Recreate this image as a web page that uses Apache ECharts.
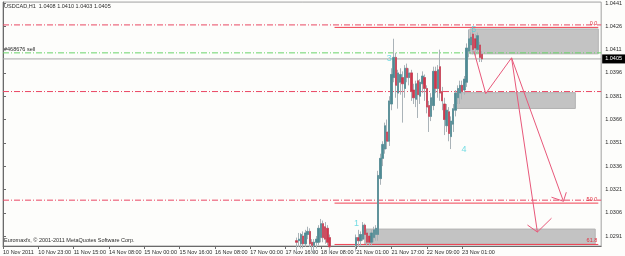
<!DOCTYPE html>
<html>
<head>
<meta charset="utf-8">
<script src="https://cdn.jsdelivr.net/npm/echarts@6/dist/echarts.min.js"></script>
<style>
html, body { margin: 0; padding: 0; background: #fff; }
#chart { width: 625px; height: 256px; }
</style>
</head>
<body>
<div id="chart"></div>
<script>
// USDCAD H1, fixed scale: older bars sit below the visible range
const barCount = 272;
const firstBar = 133;   // first bar index that has data below
const xTickStep = 16;
const xTickLabels = ['10 Nov 2011', '10 Nov 23:00', '11 Nov 15:00', '14 Nov 08:00', '15 Nov 00:00',
  '15 Nov 16:00', '16 Nov 08:00', '17 Nov 00:00', '17 Nov 16:00', '18 Nov 08:00',
  '21 Nov 01:00', '21 Nov 17:00', '22 Nov 09:00', '23 Nov 01:00'];
const yTicks = [1.0291, 1.0306, 1.0321, 1.0336, 1.0351, 1.0366, 1.0381, 1.0396, 1.0411, 1.0426, 1.0441];

// bars 133..217 (null = below the window)
const opens = [
  1.0288, 1.0288, 1.0286, 1.0291, 1.0286, 1.0292, 1.0294, 1.0287, 1.0285, 1.0287, 1.0287, 1.0290, 1.0299, 1.0297, 1.0296, 1.0290,
  null, null, null, null, null, null, null, null, null, null, null,
  1.0285, 1.0290, 1.0288, 1.0289, 1.0298, 1.0293, 1.0291, 1.0287, 1.0290, 1.0292,
  1.0292, 1.0328, 1.0341, 1.0347, 1.0358, 1.0352, 1.0376, 1.0393, 1.0406, 1.0383,
  1.0390, 1.0393, 1.0386, 1.0399, 1.0393, 1.0396, 1.0385, 1.0379, 1.0391, 1.0381,
  1.0389, 1.0393, 1.0386, 1.0375, 1.0368, 1.0375, 1.0397, 1.0386, 1.0400, 1.0384,
  1.0376, 1.0362, 1.0371, 1.0355, 1.0363, 1.0372, 1.0380, 1.0383, 1.0388, 1.0385,
  1.0390, 1.0410, 1.0414, 1.0421, 1.0418, 1.0411, 1.0414, 1.0408];
const closes = [
  1.0287, 1.0289, 1.0292, 1.0286, 1.0293, 1.0294, 1.0286, 1.0285, 1.0287, 1.0289, 1.0296, 1.0299, 1.0290, 1.0289, 1.0287, 1.0284,
  null, null, null, null, null, null, null, null, null, null, null,
  1.0290, 1.0288, 1.0292, 1.0298, 1.0292, 1.0287, 1.0287, 1.0293, 1.0295, 1.0296,
  1.0330, 1.0341, 1.0350, 1.0362, 1.0352, 1.0378, 1.0395, 1.0406, 1.0388, 1.0396,
  1.0395, 1.0389, 1.0399, 1.0393, 1.0396, 1.0384, 1.0380, 1.0389, 1.0382, 1.0390,
  1.0394, 1.0386, 1.0374, 1.0368, 1.0380, 1.0397, 1.0386, 1.0398, 1.0383, 1.0378,
  1.0366, 1.0372, 1.0357, 1.0365, 1.0373, 1.0383, 1.0386, 1.0388, 1.0384, 1.0392,
  1.0412, 1.0418, 1.0419, 1.0411, 1.0412, 1.0420, 1.0406, 1.0405];
const lows = [
  1.0280, 1.0284, 1.0283, 1.0283, 1.0284, 1.0289, 1.0284, 1.0281, 1.0280, 1.0283, 1.0285, 1.0287, 1.0287, 1.0286, 1.0285, 1.0280,
  null, null, null, null, null, null, null, null, null, null, null,
  1.0281, 1.0284, 1.0285, 1.0288, 1.0289, 1.0285, 1.0285, 1.0285, 1.0287, 1.0288,
  1.0288, 1.0324, 1.0336, 1.0344, 1.0347, 1.0349, 1.0372, 1.0390, 1.0380, 1.0373,
  1.0382, 1.0364, 1.0380, 1.0390, 1.0388, 1.0378, 1.0376, 1.0374, 1.0367, 1.0376,
  1.0383, 1.0378, 1.0370, 1.0358, 1.0365, 1.0372, 1.0383, 1.0380, 1.0378, 1.0372,
  1.0356, 1.0358, 1.0352, 1.0347, 1.0358, 1.0368, 1.0376, 1.0376, 1.0379, 1.0382,
  1.0387, 1.0406, 1.0410, 1.0408, 1.0407, 1.0409, 1.0403, 1.0403];
const highs = [
  1.0290, 1.0293, 1.0293, 1.0294, 1.0295, 1.0297, 1.0296, 1.0289, 1.0289, 1.0291, 1.0298, 1.0302, 1.0301, 1.0300, 1.0298, 1.0292,
  null, null, null, null, null, null, null, null, null, null, null,
  1.0292, 1.0295, 1.0294, 1.0300, 1.0299, 1.0295, 1.0293, 1.0295, 1.0297, 1.0298,
  1.0333, 1.0344, 1.0352, 1.0364, 1.0366, 1.0381, 1.0399, 1.0418, 1.0409, 1.0398,
  1.0399, 1.0397, 1.0401, 1.0402, 1.0399, 1.0398, 1.0389, 1.0391, 1.0396, 1.0392,
  1.0397, 1.0395, 1.0388, 1.0378, 1.0383, 1.0400, 1.0400, 1.0401, 1.0411, 1.0387,
  1.0380, 1.0376, 1.0374, 1.0368, 1.0376, 1.0385, 1.0388, 1.0391, 1.0391, 1.0394,
  1.0415, 1.0424, 1.0422, 1.0425, 1.0421, 1.0422, 1.0416, 1.0410];

// horizontal levels
const redLevels = [1.04269, 1.0384, 1.03141];
const greenLevel = 1.04089;
const bidPrice = 1.0405;
const fibNames = ['0.0', '50.0', '61.8'];
const fibLevels = [1.04253, 1.03122, 1.02856];
const fibFrom = 150.2, fibTo = 269.7;

// grey zones [x1, y1, x2, y2] in bar index / price
const zones = [
  [211.5, 1.04243, 269.7, 1.04083],
  [204.7, 1.03833, 259.3, 1.03731],
  [163.9, 1.02955, 268.3, 1.02858]
];

// projection drawn with the trend tool
const arrowPaths = [
  [[213.3, 1.04102], [218.7, 1.03827], [230.4, 1.04057], [242.1, 1.02936]],
  [[230.4, 1.04057], [253.9, 1.03134]],
  [[237.6, 1.02981], [242.1, 1.02936], [248.5, 1.03025]],
  [[248.5, 1.0316], [253.9, 1.03134], [255.2, 1.03192]]
];

const waveNames = ['1', '3', '4', '5'];
const waveX = [160.1, 175.0, 208.8, 213.3];
const waveY = [1.0299, 1.0405, 1.0347, 1.0424];

const cats = Array.from({ length: barCount }, (_, i) => String(i));
const wickData = [];
const bodyData = [];
for (let i = 0; i < barCount; i++) {
  const k = i - firstBar;
  if (k >= 0 && k < opens.length && opens[k] != null) {
    const o = opens[k], c = closes[k];
    wickData.push([o, c, lows[k], highs[k]]);
    bodyData.push([o, c, Math.min(o, c), Math.max(o, c)]);
  } else {
    wickData.push(['-', '-', '-', '-']);
    bodyData.push(['-', '-', '-', '-']);
  }
}

const RED = '#ea4763';
const FIBRED = '#f04050';
const dashDot = [6, 2, 1, 2];
const txt = '#2a2a2a';
const FONT = 'Liberation Sans';
const xEnd = barCount - 1;

// plain helper: a horizontal segment as a line series on the hidden value x axis
function hline(v, from, to, color, type, z, extra) {
  return Object.assign({
    type: 'line', xAxisIndex: 1, data: [[from, v], [to, v]], z: z, silent: true,
    symbol: 'none', color: color, itemStyle: { color: color },
    lineStyle: { color: color, type: type, width: 1 }
  }, extra || {});
}

const series = [
  {
    type: 'line', xAxisIndex: 1, data: [[0, 1.035], [0, 1.035]], z: 1, silent: true, symbol: 'none',
    lineStyle: { opacity: 0 },
    markArea: {
      silent: true,
      itemStyle: { color: '#c3c3c3', borderColor: '#b3b3b3', borderWidth: 1 },
      data: zones.map(z => [{ coord: [z[0], z[1]] }, { coord: [z[2], z[3]] }])
    }
  },
  {
    type: 'candlestick', data: wickData, z: 3, barWidth: 1.8, silent: true,
    itemStyle: { color: '#bcc3c6', color0: '#bcc3c6', borderColor: '#aab3b8', borderColor0: '#aab3b8', borderWidth: 1 }
  },
  {
    type: 'candlestick', data: bodyData, z: 4, barWidth: 1.9, silent: true,
    itemStyle: { color: '#4e8b94', color0: '#d2364c', borderColor: '#4e8b94', borderColor0: '#d2364c', borderWidth: 0.6 }
  }
];

redLevels.forEach(v => series.push(hline(v, 0, xEnd, RED, dashDot, 2)));
series.push(hline(greenLevel, 0, xEnd, '#6ad46a', dashDot, 2));
series.push(hline(bidPrice, 0, xEnd, '#a8a8a8', 'solid', 2, {
  endLabel: { show: true, formatter: bidPrice.toFixed(4), backgroundColor: '#000', color: '#fff',
    fontSize: 5.5, fontFamily: FONT, padding: [2, 3, 1, 3], distance: 1 }
}));
fibLevels.forEach((v, j) => series.push(hline(v, fibFrom, fibTo, FIBRED, 'solid', 2, {
  endLabel: { show: true, formatter: fibNames[j], color: '#e03040', fontSize: 5.5, fontFamily: FONT,
    align: 'right', verticalAlign: 'bottom', offset: [-1, -1], distance: 0 }
})));

arrowPaths.forEach(p => series.push({
  type: 'line', xAxisIndex: 1, data: p, z: 5, silent: true, symbol: 'none', color: '#e8587a',
  lineStyle: { color: '#e8587a', width: 1 }
}));
series.push({
  type: 'scatter', xAxisIndex: 1, z: 6, silent: true, symbolSize: 1,
  itemStyle: { color: 'transparent' },
  data: waveX.map((x, j) => ({ value: [x, waveY[j]], name: waveNames[j] })),
  label: { show: true, position: 'inside', formatter: p => p.name, color: '#4fd3dc', fontSize: 9, fontFamily: FONT }
});

const chart = echarts.init(document.getElementById('chart'));
chart.setOption({
  animation: false,
  backgroundColor: '#fdfdfb',
  grid: { left: 2, right: 22, top: 1, bottom: 10, show: true, borderColor: '#a0a0a0', borderWidth: 1 },
  xAxis: [
    {
      type: 'category', data: cats, boundaryGap: false,
      axisLine: { lineStyle: { color: '#6a6a6a' } },
      axisTick: { show: true, length: 3, interval: i => i % xTickStep === 0 && i / xTickStep < xTickLabels.length,
        lineStyle: { color: '#6a6a6a' } },
      axisLabel: {
        interval: i => i % xTickStep === 0 && i / xTickStep < xTickLabels.length,
        formatter: (v, i) => xTickLabels[i / xTickStep] || '',
        align: 'left', fontSize: 5.5, fontFamily: FONT, color: txt, margin: 3
      },
      splitLine: { show: false }
    },
    { type: 'value', min: 0, max: xEnd, show: false }
  ],
  yAxis: {
    type: 'value', position: 'right', min: 1.02846, max: 1.04416, scale: true,
    axisLine: { show: true, lineStyle: { color: '#6a6a6a' } },
    axisTick: { show: true, length: 3, customValues: yTicks, lineStyle: { color: '#6a6a6a' } },
    axisLabel: { customValues: yTicks, formatter: v => v.toFixed(4), fontSize: 5.5, fontFamily: FONT, color: txt, margin: 4 },
    splitLine: { show: false }
  },
  graphic: [
    { type: 'text', left: 4, top: 3, style: { text: 'USDCAD,H1  1.0408 1.0410 1.0403 1.0405', fontSize: 5.5, fontFamily: FONT, fill: txt } },
    { type: 'text', left: 4, top: 46, style: { text: '#468676 sell', fontSize: 5.5, fontFamily: FONT, fill: txt } },
    { type: 'text', left: 4, top: 237, style: { text: 'Euromaxfx, \u00a9 2001-2011 MetaQuotes Software Corp.', fontSize: 5.5, fontFamily: FONT, fill: txt } }
  ],
  series: series
});
</script>
</body>
</html>
